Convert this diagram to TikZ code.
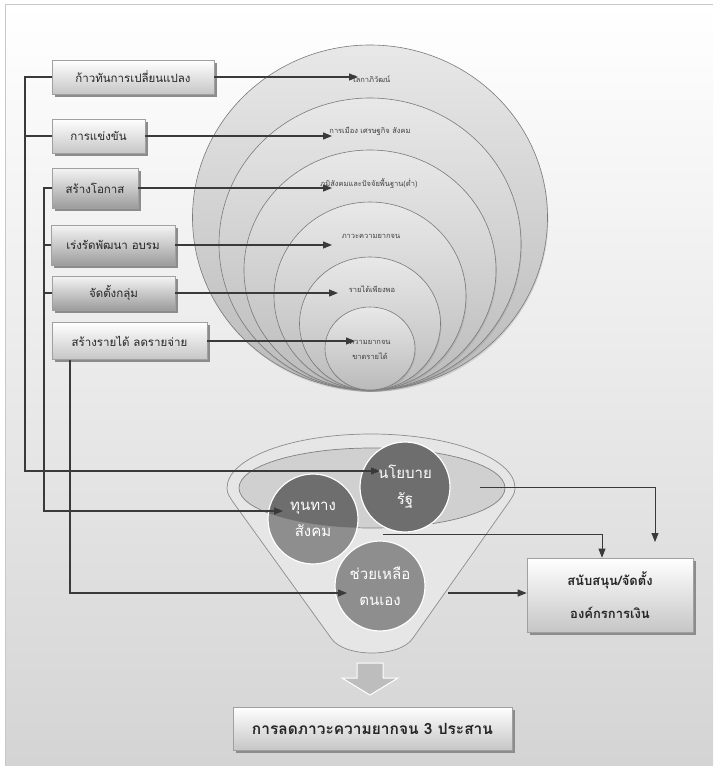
\documentclass[tikz,border=0pt]{standalone}
\usepackage{fontspec}
\newfontfamily\thai[Script=Thai]{Loma}
\usetikzlibrary{arrows.meta,shadows}
\definecolor{ln}{HTML}{3A3A3A}
\definecolor{bgbot}{HTML}{D4D4D4}
\definecolor{framec}{HTML}{C8C8C8}
\definecolor{ringtop}{HTML}{E8E8E8}
\definecolor{ringbot}{HTML}{BABABA}
\definecolor{ringline}{HTML}{7A7A7A}
\definecolor{boxline}{HTML}{A0A0A0}
\definecolor{boxbot}{HTML}{C6C6C6}
\definecolor{boxdbot}{HTML}{9C9C9C}
\definecolor{funfill}{HTML}{E6E6E6}
\definecolor{ellc}{HTML}{D0D0D0}
\definecolor{fdark}{HTML}{6E6E6E}
\definecolor{flight}{HTML}{8E8E8E}
\definecolor{arrfill}{HTML}{BDBDBD}
\begin{document}
\begin{tikzpicture}[x=1pt,y=-1pt]
\tikzset{
  lbox/.style={draw=boxline, line width=0.6pt, top color=white, bottom color=boxbot,
    drop shadow={shadow xshift=2.5pt, shadow yshift=-2.5pt, fill=black!45, opacity=1},
    font=\thai\fontsize{11.5}{13}\selectfont, text=black!85, inner sep=0pt, align=center},
  dbox/.style={lbox, top color=black!4, bottom color=boxdbot},
  arr/.style={draw=ln, line width=1.2pt, -{Triangle[length=9pt,width=7pt]}},
  arrthin/.style={draw=ln, line width=0.8pt, -{Triangle[length=9pt,width=7pt]}},
  wire/.style={draw=ln, line width=1.2pt},
  ring/.style={draw=ringline, line width=0.6pt, top color=ringtop, bottom color=ringbot,
    drop shadow={shadow xshift=0.8pt, shadow yshift=-1.8pt, opacity=0.25}},
  rlabel/.style={font=\thai\fontsize{7.5}{15}\selectfont, text=black!75, align=center, inner sep=0pt},
  fc/.style={circle, minimum size=90pt, inner sep=0pt, draw=white, line width=1.2pt,
    text=white, align=center, font=\thai\fontsize{15}{26}\selectfont},
}
\useasboundingbox (0,0) rectangle (713,766);
\fill[white] (0,0) rectangle (713,766);
\shade[top color=white, bottom color=bgbot] (5,4) rectangle (713,766);
\draw[framec, line width=1pt] (5,766) -- (5,4) -- (713,4);

% nested rings
\foreach \cy/\rx/\ry in {217.5/177.5/172.5, 244/151/146, 270/126/120, 296/96/94, 323.5/70.5/66.5, 348.5/45/41.5}
  \path[ring] (370,\cy) ellipse[x radius=\rx pt, y radius=\ry pt];

\node[rlabel] (l1) at (371,79) {โลกาภิวัฒน์};
\node[rlabel] (l2) at (370,131) {การเมือง เศรษฐกิจ สังคม};
\node[rlabel] (l3) at (369,184) {ภูมิสังคมและปัจจัยพื้นฐาน(ต่ำ)};
\node[rlabel] (l4) at (371,236) {ภาวะความยากจน};
\node[rlabel] (l5) at (372,289) {รายได้เพียงพอ};
\node[rlabel] (l6) at (370,350) {ความยากจน\\ขาดรายได้};

% funnel
\path[draw=black!45, line width=0.7pt, fill=funfill]
  (227,488) .. controls (227,458.2) and (291.5,434) .. (371,434)
  .. controls (450.5,434) and (515,458.2) .. (515,488)
  .. controls (515,494) and (512,497) .. (509,502)
  -- (413,638) .. controls (400,658) and (344,658) .. (331,638)
  -- (233,502) .. controls (230,497) and (227,494) .. cycle;
\path[draw=black!50, fill=ellc, line width=0.7pt] (372,488) ellipse[x radius=133pt, y radius=40pt];

\node[fc, fill=fdark] (np) at (405,487) {นโยบาย\\รัฐ};
\node[fc, fill=flight, path picture={\fill[fdark] ([xshift=59pt,yshift=31pt]path picture bounding box.center) ellipse[x radius=133pt, y radius=40pt];}] (ts) at (313,519) {ทุนทาง\\สังคม};
\node[fc, fill=flight] (ch) at (380,586) {ช่วยเหลือ\\ตนเอง};

% block arrow
\filldraw[fill=arrfill, draw=white, line width=1pt]
  (357,663) -- (383,663) -- (383,678) -- (398,678) -- (370,695) -- (342,678) -- (357,678) -- cycle;

% boxes
\node[lbox, minimum width=162pt, minimum height=34pt] (b1) at (133,77) {ก้าวทันการเปลี่ยนแปลง};
\node[lbox, minimum width=93pt, minimum height=34pt] (b2) at (98.5,136) {การแข่งขัน};
\node[dbox, minimum width=86pt, minimum height=40pt] (b3) at (95,188) {สร้างโอกาส};
\node[dbox, minimum width=124pt, minimum height=40pt] (b4) at (113,245) {เร่งรัดพัฒนา อบรม};
\node[dbox, minimum width=123pt, minimum height=34pt] (b5) at (113.5,293) {จัดตั้งกลุ่ม};
\node[lbox, minimum width=155pt, minimum height=37pt] (b6) at (129.5,341) {สร้างรายได้ ลดรายจ่าย};
\node[lbox, minimum width=166pt, minimum height=74pt, font=\thai\bfseries\fontsize{13}{33}\selectfont] (rb) at (610,595) {สนับสนุน/จัดตั้ง\\องค์กรการเงิน};
\node[lbox, minimum width=279pt, minimum height=43pt, font=\thai\bfseries\fontsize{15.5}{18}\selectfont] (bb) at (372.5,728.5) {การลดภาวะความยากจน 3 ประสาน};

% coordinates
\coordinate (t1) at (358,0);
\coordinate (t2) at (332,0);
\coordinate (t3) at (332,0);
\coordinate (t4) at (332,0);
\coordinate (t5) at (338,0);
\coordinate (t6) at (355,0);
\coordinate (xa) at (25,0);
\coordinate (xb) at (44,0);
\coordinate (xc) at (70,0);
\coordinate (pA) at (380,471);
\coordinate (pB) at (283,511);
\coordinate (pC) at (347,593);
\coordinate (s1) at (480,487);
\coordinate (e1) at (655,542);
\coordinate (s2) at (383,534);
\coordinate (x2) at (602,0);
\coordinate (s3) at (448,593);

% arrows boxes -> rings
\draw[arr] (b1.east) -- (b1.east -| t1);
\draw[arr] (b2.east) -- (b2.east -| t2);
\draw[arr] (b3.east) -- (b3.east -| t3);
\draw[arr] (b4.east) -- (b4.east -| t4);
\draw[arr] (b5.east) -- (b5.east -| t5);
\draw[arr] (b6.east) -- (b6.east -| t6);

% left wires -> funnel circles
\draw[arr] (b1.west) -- (b1.west -| xa) |- (pA);
\draw[wire] (b2.west) -- (b2.west -| xa);
\draw[arr] (b3.west) -- (b3.west -| xb) |- (pB);
\draw[wire] (b4.west) -- (b4.west -| xb);
\draw[wire] (b5.west) -- (b5.west -| xb);
\draw[arr] (b6.south -| xc) |- (pC);

% funnel -> right box
\draw[arrthin] (s1) -| (e1);
\draw[arrthin] (s2) -| (rb.north -| x2);
\draw[arr] (s3) -- (s3 -| rb.west);
\end{tikzpicture}
\end{document}
